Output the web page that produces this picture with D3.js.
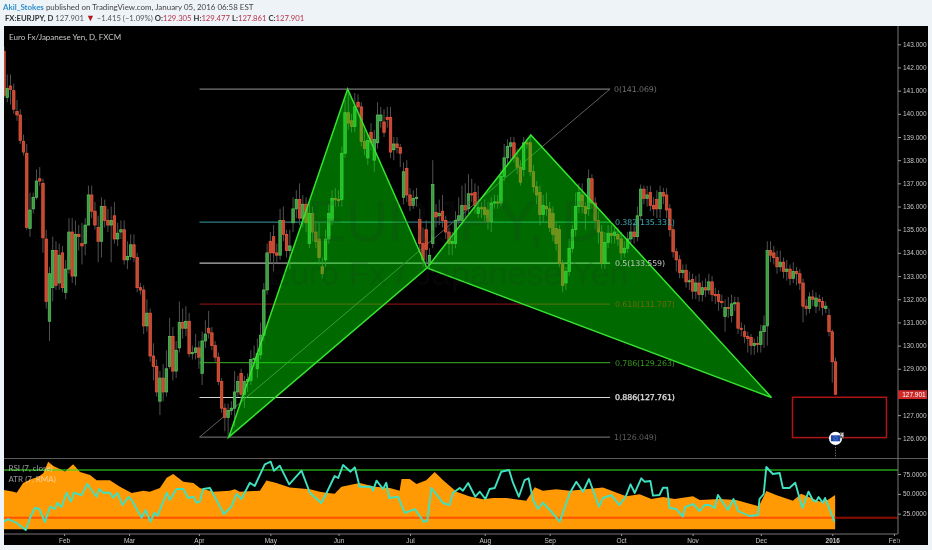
<!DOCTYPE html>
<html><head><meta charset="utf-8">
<script src="https://cdn.jsdelivr.net/npm/d3@7"></script>
<style>
html,body{margin:0;padding:0;background:#eef3f8;overflow:hidden}
svg{display:block;filter:blur(.4px)}
text{font-family:"Liberation Sans",Arial,sans-serif}
</style></head><body>
<svg id="c" width="932" height="550"></svg>
<script>
const opens=[142.7,140.7,141.2,141.0,140.1,139.95,138.8,138.3,135.05,135.9,
136.4,137.2,137.0,134.6,131.05,132.5,134.1,132.7,134.0,132.3,
133.3,134.9,133.0,134.8,134.4,134.4,135.2,136.5,135.8,135.1,
134.5,136.0,135.4,135.2,135.6,134.6,134.9,135.0,133.7,133.85,
134.35,133.8,132.5,132.4,130.85,131.4,129.55,129.1,127.6,128.6,
128.0,129.1,130.4,128.9,129.9,131.0,130.75,131.05,129.65,129.7,
129.9,128.8,130.2,130.75,130.55,130.0,129.5,128.45,127.3,126.9,
127.2,127.3,128.0,128.8,127.9,128.45,128.5,129.4,129.0,129.6,
130.45,132.4,134.5,134.7,134.0,133.9,135.4,134.8,134.1,135.3,
135.9,136.3,135.5,136.1,134.4,135.7,134.9,134.6,133.4,133.7,
134.6,135.4,136.35,136.3,136.3,138.3,140.05,139.7,139.45,140.5,
140.3,138.8,138.1,139.2,138.0,138.75,139.7,139.65,139.85,139.85,
138.45,138.7,138.55,136.4,137.65,136.5,136.05,136.35,135.45,134.4,
135.0,133.5,134.4,135.75,135.6,135.8,135.4,134.9,134.4,134.4,
135.4,135.4,136.05,135.9,136.55,136.6,135.7,135.95,135.95,135.85,
135.35,136.15,136.2,136.15,137.3,138.1,138.6,138.75,138.1,137.7,
137.6,138.75,138.75,137.5,136.85,136.6,135.65,136.0,135.9,135.7,
135.05,135.0,133.55,132.7,133.2,134.2,135.0,136.0,136.5,136.0,
135.9,137.2,136.15,135.4,134.9,133.55,134.45,134.85,134.75,134.8,
134.6,134.0,134.2,134.6,134.9,134.7,135.6,136.75,136.35,136.6,
136.05,136.3,135.9,136.6,136.5,135.9,135.0,134.05,133.7,133.15,
133.25,132.75,132.85,132.35,132.7,132.2,132.5,132.4,132.75,132.2,
132.2,131.9,131.25,131.65,131.3,131.8,131.85,130.75,130.6,130.4,
130.35,130.0,130.1,130.05,130.6,130.85,134.1,134.0,133.8,133.4,
133.6,133.2,133.3,132.9,133.2,133.1,132.7,131.7,131.6,132.1,
131.7,132.0,131.9,131.6,131.3,130.6,129.3];
const closes=[140.8,141.1,141.05,140.2,139.95,138.85,138.35,135.1,135.85,136.4,
137.1,137.1,134.65,131.9,133.1,134.1,132.6,133.9,132.5,133.3,
134.9,133.0,134.8,134.7,134.3,135.2,136.5,135.8,135.2,134.5,
136.0,135.4,135.2,135.4,134.6,134.85,135.0,133.7,133.85,134.35,
133.8,132.5,132.4,130.85,131.4,129.55,129.1,128.0,128.6,128.0,
129.0,130.4,128.9,129.8,131.0,130.75,131.05,129.65,129.7,129.9,
129.5,130.2,130.5,130.55,130.0,129.5,128.45,127.3,126.9,127.2,
127.3,128.0,128.45,127.9,128.45,128.55,129.4,129.45,129.65,130.45,
132.4,134.0,134.0,134.0,133.9,135.4,134.8,134.1,134.3,135.9,
136.3,135.5,136.1,135.3,135.7,134.9,134.5,133.8,133.1,134.6,
135.7,136.35,136.3,136.25,138.3,140.05,139.6,139.45,140.3,140.3,
138.8,138.5,138.85,138.75,138.9,139.95,139.95,139.2,139.75,138.35,
138.7,138.55,138.3,137.5,136.5,136.05,136.35,136.4,134.4,133.7,
134.15,133.9,136.95,135.55,135.7,135.4,134.9,134.4,134.5,135.4,
135.6,136.05,135.85,136.55,136.5,136.05,135.95,135.9,135.65,135.35,
136.15,136.2,136.15,137.3,138.1,138.6,138.75,138.1,137.7,137.05,
138.75,138.7,137.5,136.85,136.5,135.65,136.05,135.9,135.1,134.8,
134.4,133.55,132.6,133.2,134.2,135.0,136.0,136.6,136.0,135.7,
137.2,136.15,135.4,134.9,133.55,134.45,134.85,134.75,134.9,134.6,
134.0,134.2,134.6,134.9,134.7,135.6,136.75,136.35,136.5,136.05,
135.9,135.9,136.6,136.45,135.85,135.0,134.05,133.7,133.15,133.25,
132.75,132.8,132.35,132.7,132.2,132.5,132.4,132.75,132.2,132.15,
131.9,131.85,131.65,131.6,131.8,131.85,130.75,130.7,130.4,130.3,
130.0,130.1,130.05,130.6,130.85,134.1,133.9,133.8,133.4,133.6,
133.2,133.3,132.9,133.2,133.1,132.7,131.7,131.6,132.1,132.0,
132.05,131.9,131.65,131.7,130.6,129.3,127.901];
const highs=[142.9,141.7,141.7,141.3,140.6,140.2,139.1,138.7,136.6,136.6,
137.6,137.7,137.2,135.0,133.4,134.7,134.5,134.4,134.3,133.7,
135.5,135.5,135.4,135.2,135.3,135.5,136.9,136.9,136.2,135.6,
136.4,136.3,135.9,136.0,136.2,135.3,135.4,135.4,134.5,134.8,
134.8,134.0,132.7,132.6,132.0,131.6,130.1,129.4,128.9,129.2,
129.8,131.2,130.8,130.2,131.9,131.6,131.7,131.4,130.0,130.5,
130.2,130.6,131.1,131.5,130.8,130.2,129.7,128.6,127.5,127.5,
127.6,128.9,128.7,129.0,128.7,128.8,129.8,130.0,130.3,131.0,
132.7,134.4,134.9,135.2,134.4,135.9,136.0,135.0,135.0,136.4,
136.7,137.0,136.5,136.4,136.2,136.0,135.3,135.3,133.8,135.0,
136.1,136.7,136.8,136.7,138.6,140.6,141.07,140.0,140.9,140.85,
140.5,139.3,139.1,139.6,139.3,140.5,140.3,140.2,140.3,140.3,
139.0,139.0,138.7,137.9,138.0,136.8,136.7,136.8,135.9,135.1,
135.4,134.2,138.0,136.1,136.3,136.5,135.6,135.1,134.9,135.8,
136.4,136.9,137.0,137.4,137.2,137.0,136.9,136.2,136.3,136.2,
136.4,136.5,136.5,137.6,138.7,138.9,139.0,139.0,138.5,138.0,
139.0,138.9,139.07,137.8,137.1,136.9,136.5,136.6,136.2,136.0,
135.3,135.2,133.7,133.4,134.6,135.2,136.6,137.0,137.0,136.2,
137.6,137.4,136.4,135.8,135.2,134.9,135.2,135.2,135.2,135.1,
134.9,134.5,134.9,135.2,135.3,136.0,136.95,136.9,136.9,136.9,
136.4,136.7,136.9,136.8,136.8,136.1,135.2,134.2,133.9,133.5,
133.5,133.2,133.1,133.0,133.1,132.8,132.9,133.1,133.0,132.5,
132.4,132.2,132.0,132.1,132.2,132.1,132.1,131.0,130.9,130.6,
130.5,130.3,130.4,130.9,131.3,134.5,134.5,134.3,134.1,134.1,
133.8,133.7,133.5,133.6,133.4,133.3,132.9,132.0,132.3,132.4,
132.3,132.2,132.1,131.9,131.6,130.7,129.477];
const lows=[140.7,140.5,140.4,140.0,139.7,138.7,138.2,135.0,134.7,135.7,
136.3,136.9,134.0,131.6,130.2,131.9,132.4,132.4,132.3,132.0,
133.1,132.7,132.6,134.1,133.5,133.9,135.2,135.5,135.0,133.6,
133.8,135.1,134.9,133.6,134.4,134.3,134.6,133.5,133.3,133.7,
133.6,132.3,132.2,130.5,130.6,129.3,128.5,127.8,127.0,127.6,
127.8,129.0,128.5,128.6,129.7,130.3,130.4,129.5,129.4,129.4,
129.0,128.3,129.9,130.3,129.8,129.3,128.3,127.1,126.3,126.05,
127.0,126.5,127.8,127.5,127.3,128.0,128.3,129.1,128.6,129.4,
130.2,132.2,133.6,133.2,133.6,133.7,134.5,133.8,133.3,134.9,
135.5,135.2,135.1,134.9,134.2,134.5,134.2,133.5,132.9,133.4,
134.4,135.2,136.0,136.0,136.0,138.1,139.3,139.2,139.2,140.1,
138.6,138.2,137.8,138.4,137.5,138.5,139.4,139.0,139.4,138.1,
138.0,138.3,137.7,136.1,136.2,135.8,135.9,136.0,134.0,133.4,
133.5,133.3,134.2,135.1,135.2,135.1,134.6,133.9,133.9,134.2,
135.2,135.2,135.5,135.6,136.2,135.7,135.5,135.5,135.3,135.0,
134.9,135.9,135.9,136.0,137.1,137.8,138.0,137.9,137.4,136.9,
137.3,138.5,137.3,136.6,136.1,135.2,135.3,135.6,134.9,134.5,
134.1,133.4,132.3,132.4,133.0,134.0,134.7,135.7,135.7,135.0,
135.6,135.9,135.0,134.4,133.3,133.3,134.2,134.4,134.4,134.3,
133.7,133.8,134.0,134.4,134.4,134.5,135.4,136.1,136.0,135.8,
135.6,135.5,135.5,136.1,135.5,134.7,133.8,133.2,132.9,132.9,
132.5,132.4,132.0,132.0,131.9,131.9,132.1,132.2,131.9,131.8,
131.5,131.6,130.6,131.2,131.0,131.5,130.5,130.4,130.1,129.7,
129.6,129.6,129.7,129.7,129.9,130.0,133.6,133.5,133.1,133.2,
132.9,132.8,132.6,132.7,132.6,132.4,131.0,131.3,131.4,131.7,
131.4,131.5,131.3,131.4,130.4,128.4,127.861];

const priceTicks=[143,142,141,140,139,138,137,136,135,134,133,132,131,130,129,127,126];
const monthLabels=["Feb","Mar","Apr","May","Jun","Jul","Aug","Sep","Oct","Nov","Dec","2016","Feb"];
const monthIndex=[18.5,38.5,60,82,103,125,148,168,190,212,233,255,274];

const fibLevels=["0","0.382","0.5","0.618","0.786","0.886","1"];
const fibPrices=[141.069,135.331,133.559,131.787,129.263,127.761,126.049];
const fibColors=["#787878","#2f7f86","#b9b9b9","#7c1310","#2f8f1d","#d8d8d8","#666666"];
const fibLabelColors=["#6f6f6f","#3fa9b5","#c4c4c4","#6d6a08","#3a9a20","#e6e6e6","#5f5f5f"];
const fibStart=60.2, fibEnd=186.6;

const patternIdx=[69.2,105.8,130.2,162.2,236.3];
const patternPrice=[126.05,141.07,133.35,139.09,127.76];

const rsiIdx=[0,1.3,3.9,6.7,8,9.5,10.9,12.6,14.2,15.7,16.4,17.7,19.3,20.6,21.5,23.9,25.6,28.5,29.3,30.6,32.6,33.6,34.9,36.5,38.3,39.3,42.4,43.6,45.1,46.3,47.3,50.1,51.1,53.1,55.2,56.7,58.3,59.3,60.3,61.3,63.4,65.4,67.7,70,71.6,73.1,75.7,77.2,80.3,82.1,83.1,84.9,87.8,91.6,94.2,97.7,99.3,101.8,102.9,104.4,106.7,108,109.5,113.1,113.6,114.7,116.7,117.7,118.6,121.3,123.4,126.5,129.2,130.3,131.6,135.2,137.2,138.2,140.3,141.3,142.9,145.1,146.5,148.2,149.5,151.1,153.1,155.5,156.7,158.5,160.3,161.5,162.9,164.4,165.9,168.5,171.1,174.2,176.2,178.3,180.1,183.2,184.4,187,189.5,191.4,192.9,194.2,196.2,197.2,199,199.8,201.8,202.9,204.2,204.9,207,209,209.7,212.1,214.2,215.7,217.2,218.8,219.8,222.9,224.6,226,229.5,232.1,232.6,233.9,234.7,236.7,238.8,239.8,241.8,243.6,245.8,247.7,249,250,250.8,252.1,252.8,255.7];
const rsiVal=[14.9,18.3,13.3,4.4,19.6,32.2,30.9,14.5,33.8,30.9,38.8,33.4,51.4,40.1,51.4,48.5,62.4,46.4,56.1,51.4,51.4,45.1,51.1,35.9,46,42.2,20,29.6,14.9,26.2,22.5,51.4,42.2,56.1,56.1,44.8,46.4,38.8,40.1,56.1,57.4,42.2,24.6,33.8,49.8,43.5,64,59.9,87.2,90.5,79.2,85.5,62,79.2,51.1,38.5,51.1,72.5,70,86.3,77.9,83.4,59,59,54,66.6,56.1,64,44.8,46.4,25.9,30.9,14.9,15.8,57.4,38.5,35.9,51.1,57.4,54,63.7,46.4,52.7,43.5,56.1,57.4,77.9,80,64,46.4,67.4,69.6,42.2,30.9,38.8,27.5,14.9,51.1,65.3,52.7,68.7,33.8,44.8,48.5,35.9,46.4,62,51.1,69.6,65.3,66.2,47.7,48.5,57.7,57.7,32.2,30.9,21.2,33.4,37.2,28.4,35.9,35.9,32.2,48.5,29.6,43.5,28.4,22.1,23.3,43.5,49.8,83.8,75,76.3,57.4,57.4,64,32.2,52.7,42.2,40.1,46,38.8,44.8,14.9];
const rsiTicks=[75,50,25];
const rsiBands=[80,20];

const atrIdx=[0,2.9,3.9,5.9,8.5,10.6,12.1,13.6,15.2,18.8,21.3,23.4,26.5,28.5,32.6,35.7,39.3,42.9,44.9,48,50.1,52.1,55.2,58.3,60.3,64.4,69.5,71.1,72.6,78.8,80.8,83.9,88,94.2,97.2,99.8,101.8,103.9,109.5,114.2,118.8,121.8,122.4,124.9,127,130,132.6,135.2,139.3,143.4,147.5,150.6,154.7,160.8,163.4,165.9,170,174.2,184.4,189.5,191.6,195.7,199.3,202.9,206.5,212.1,214.2,220.3,225.4,232.1,232.6,234.7,237.7,242.9,245.4,251.1,253.6,255.9];
const atrVal=[1.01,.96,.94,1.19,1.29,1.35,1.44,1.73,1.62,1.48,1.67,1.47,1.39,1.26,1.26,1.09,.93,.99,.96,1.06,1.32,1.42,1.22,1.19,1.06,.96,.99,1.03,.96,.99,1.25,1.19,1.07,1.03,.96,.93,.91,1.09,1.19,1.09,1.06,.99,1.29,1.29,1.16,1.26,1.47,1.26,.96,.84,.77,.80,.80,.73,1.08,.99,1.03,.99,1.07,.91,.85,.90,.78,.83,.78,.85,.75,.78,.75,.60,.62,.98,.88,.73,.91,.71,.75,.88];

const lastPrice=127.901;

const svg=d3.select("#c");
const L=4,R=898,RE=928,T=26,B=458.5,PB=534,BE=545;

const x=d3.scaleLinear().domain([0,256]).range([4,835.5]);
const y=d3.scaleLinear().domain([143,126]).range([44.3,438.3]);
const yR=d3.scaleLinear().domain([75,25]).range([474,513.7]);
const yA=d3.scaleLinear().domain([0,1.8]).range([529.3,459.1]);

svg.append("rect").attr("x",L).attr("y",T).attr("width",RE-L).attr("height",BE-T).attr("fill","#000");
const defs=svg.append("defs");
defs.append("clipPath").attr("id","cp").append("rect").attr("x",L).attr("y",T).attr("width",R-L).attr("height",B-T);
defs.append("clipPath").attr("id","cr").append("rect").attr("x",L).attr("y",B).attr("width",R-L).attr("height",PB-B);

// header
const h1=svg.append("text").attr("x",3).attr("y",10).attr("font-size",7.95).style("font-family","Lato").attr("fill","#444");
h1.append("tspan").attr("fill","#2f8fc9").attr("font-weight",700).text("Akil_Stokes");
h1.append("tspan").text(" published on TradingView.com, January 05, 2016 06:58 EST");
const h2=svg.append("text").attr("x",5).attr("y",21).attr("font-size",7.7).style("font-family","Lato").attr("fill","#555");
h2.append("tspan").attr("font-weight",700).attr("fill","#333").text("FX:EURJPY, D");
h2.append("tspan").text(" 127.901 ");
h2.append("tspan").attr("fill","#b01818").attr("font-size",9).text("▼");
h2.append("tspan").text(" −1.415 (−1.09%) ");
[["O:","129.305"],["H:","129.477"],["L:","127.861"],["C:","127.901"]].forEach(d=>{
  h2.append("tspan").attr("font-weight",700).attr("fill","#333").text(d[0]);
  h2.append("tspan").attr("fill","#b8324a").text(d[1]+" ");
});

svg.append("text").attr("x",9).attr("y",39.5).attr("font-size",8).style("font-family","Lato").attr("fill","#c8c8c8").text("Euro Fx/Japanese Yen, D, FXCM");

const main=svg.append("g").attr("clip-path","url(#cp)");

// fib lines
const fibG=main.append("g");
fibPrices.forEach((p,i)=>{
  fibG.append("line").attr("x1",x(fibStart)).attr("x2",x(fibEnd)).attr("y1",y(p)).attr("y2",y(p))
    .attr("stroke",fibColors[i]).attr("stroke-width",1.2);
});
fibG.append("line").attr("x1",x(fibStart)).attr("y1",y(fibPrices[6])).attr("x2",x(fibEnd)).attr("y2",y(fibPrices[0]))
  .attr("stroke","#6a6a6a").attr("stroke-width",.9);

// candles
const idx=d3.range(closes.length);
main.append("g").selectAll("line").data(idx).join("line")
  .attr("x1",i=>x(i)).attr("x2",i=>x(i)).attr("y1",i=>y(highs[i])).attr("y2",i=>y(lows[i]))
  .attr("stroke","#5a5a5a").attr("stroke-width",.9);
main.append("g").selectAll("rect").data(idx).join("rect")
  .attr("x",i=>x(i)-1.25).attr("width",2.5)
  .attr("y",i=>y(Math.max(opens[i],closes[i])))
  .attr("height",i=>Math.max(.8,Math.abs(y(opens[i])-y(closes[i]))))
  .attr("fill",i=>closes[i]>=opens[i]?"#3f9a45":"#bd4a33")
  .attr("stroke",i=>closes[i]>=opens[i]?"#58c85c":"#f4573a")
  .attr("stroke-width",.7);

// harmonic pattern
const pat=d3.range(patternIdx.length).map(i=>[x(patternIdx[i]),y(patternPrice[i])]);
const triA=[pat[0],pat[1],pat[2]], triB=[pat[2],pat[3],pat[4]];
[triA,triB].forEach(t=>{
  main.append("path").attr("d",d3.line()(t)+"Z").attr("fill","#00f000").attr("fill-opacity",.44)
    .attr("stroke","#34e52e").attr("stroke-width",1.5).attr("stroke-linejoin","miter");
});

// watermark
main.append("text").attr("x",455).attr("y",241).attr("text-anchor","middle").attr("font-size",58)
  .attr("fill","#2c2c2c").attr("fill-opacity",.14).text("EURJPY, D");
main.append("text").attr("x",448).attr("y",285).attr("text-anchor","middle").attr("font-size",34)
  .attr("fill","#2c2c2c").attr("fill-opacity",.14).text("Euro Fx / Japanese Yen");

// fib labels
fibPrices.forEach((p,i)=>{
  main.append("text").attr("x",x(fibEnd)+(i===0?4:i===6?4:5)).attr("y",y(p)+3).attr("font-size",7.9)
    .style("font-family","DejaVu Sans").attr("letter-spacing",-.12)
    .attr("stroke",i===5?"#e6e6e6":"none").attr("stroke-width",i===5?.25:0)
    .attr("fill",fibLabelColors[i]).text(fibLevels[i]+"("+p.toFixed(3)+")");
});

// red box
main.append("rect").attr("x",792.5).attr("y",y(127.77)).attr("width",94).attr("height",y(126.03)-y(127.77))
  .attr("fill","none").attr("stroke","#b01515").attr("stroke-width",1.5);

// event marker
const mx=x(256), my=y(126);
main.append("line").attr("x1",mx).attr("x2",mx).attr("y1",my+6).attr("y2",B).attr("stroke","#777").attr("stroke-dasharray","1.2,1.5");
main.append("circle").attr("cx",mx).attr("cy",my).attr("r",6.6).attr("fill","#fff");
main.append("rect").attr("x",mx-4.6).attr("y",my-3).attr("width",9.2).attr("height",6).attr("fill","#1c48a8");
main.append("circle").attr("cx",mx).attr("cy",my).attr("r",1.8).attr("fill","none").attr("stroke","#6a8fd8").attr("stroke-width",.6);
main.append("rect").attr("x",mx+4.5).attr("y",my-6).attr("width",4).attr("height",6).attr("fill","#6a6a6a");
main.append("text").attr("x",mx+6.5).attr("y",my-1.2).attr("text-anchor","middle").attr("font-size",5.5).attr("fill","#fff").text("4");

// lower pane
const pane=svg.append("g").attr("clip-path","url(#cr)");
const atrPts=atrIdx.map((d,i)=>[d,atrVal[i]]);
pane.append("path").datum(atrPts).attr("fill","#ff9a05")
  .attr("d",d3.area().x(d=>x(d[0])).y0(yA(0)).y1(d=>yA(d[1])));
rsiBands.forEach((b,i)=>{
  pane.append("line").attr("x1",L).attr("x2",R).attr("y1",yR(b)).attr("y2",yR(b))
    .attr("stroke",i===0?"#2fdc1e":"#ff1500").attr("stroke-opacity",.55).attr("stroke-width",2);
});
pane.append("path").datum(rsiIdx.map((d,i)=>[d,rsiVal[i]])).attr("fill","none").attr("stroke","#3fe2c0").attr("stroke-width",1.9)
  .attr("stroke-linejoin","round")
  .attr("d",d3.line().x(d=>x(d[0])).y(d=>yR(d[1])));
svg.append("text").attr("x",8.5).attr("y",471).attr("font-size",8).style("font-family","Lato").attr("fill","#eee").attr("fill-opacity",.62).text("RSI (7, close)");
svg.append("text").attr("x",8.5).attr("y",482).attr("font-size",8).style("font-family","Lato").attr("fill","#eee").attr("fill-opacity",.62).text("ATR (7, RMA)");

// axes and dividers
const axisColor="#5a5a5a";
svg.append("line").attr("x1",L).attr("x2",RE).attr("y1",B).attr("y2",B).attr("stroke",axisColor).attr("stroke-width",1);
function styleAxis(g,size){
  g.select(".domain").attr("stroke","#777");
  g.selectAll(".tick line").attr("stroke","#999");
  g.selectAll("text").attr("fill","#c8c8c8").attr("font-size",size).style("font-family","Liberation Sans");
}
const ax=svg.append("g").attr("transform",`translate(${R},0)`).call(d3.axisRight(y).tickValues(priceTicks).tickFormat(d3.format(".3f")).tickSize(3).tickPadding(2));
ax.select(".domain").attr("d",`M0,${T}V${B}`);
styleAxis(ax,6.5);
const ar=svg.append("g").attr("transform",`translate(${R},0)`).call(d3.axisRight(yR).tickValues(rsiTicks).tickFormat(d3.format(".4f")).tickSize(3).tickPadding(2));
ar.select(".domain").attr("d",`M0,${B}V${PB}`);
styleAxis(ar,6.5);
const xb=svg.append("g").attr("transform",`translate(0,${PB})`).call(d3.axisBottom(x).tickValues(monthIndex).tickFormat((d,i)=>monthLabels[i]).tickSize(2).tickPadding(2));
xb.select(".domain").attr("d",`M${L},0H${R}`);
styleAxis(xb,6.5);
xb.selectAll("text").filter((d,i)=>i===11).attr("font-weight",700);
svg.append("line").attr("x1",R).attr("x2",R).attr("y1",PB).attr("y2",BE).attr("stroke","#000");

// last price tag
const tag=svg.append("g");
tag.append("rect").attr("x",R).attr("y",y(lastPrice)-4).attr("width",RE-R-1).attr("height",8.8).attr("fill","#cf2a2a");
tag.append("text").attr("x",R+4.2).attr("y",y(lastPrice)+2.7).attr("font-size",6.5).style("font-family","Liberation Sans").attr("fill","#fff").text(lastPrice.toFixed(3));
</script>
</body></html>
